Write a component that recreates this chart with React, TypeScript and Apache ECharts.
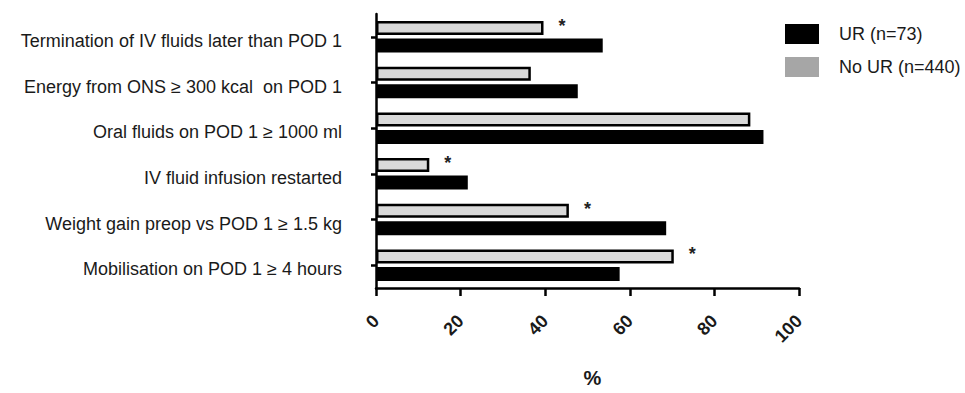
import React, { useEffect, useRef } from "react";
import * as echarts from "echarts";

const categories = [
  "Termination of IV fluids later than POD 1",
  "Energy from ONS \u2265 300 kcal  on POD 1",
  "Oral fluids on POD 1 \u2265 1000 ml",
  "IV fluid infusion restarted",
  "Weight gain preop vs POD 1 \u2265 1.5 kg",
  "Mobilisation on POD 1 \u2265 4 hours",
];
const urValues = [53.6, 47.7, 91.6, 21.7, 68.6, 57.6];
const noUrValues = [39.6, 36.6, 88.5, 12.6, 45.6, 70.4];
const significant = [true, false, false, true, true, true];
const xTicks = [0, 20, 40, 60, 80, 100];
const urName = "UR (n=73)";
const noUrName = "No UR (n=440)";

const FONT = "'Liberation Sans', Arial, sans-serif";

export default function App() {
  const ref = useRef<HTMLDivElement>(null);
  useEffect(() => {
    if (!ref.current) return;
    const chart = echarts.init(ref.current, undefined, { renderer: "svg" });
    chart.setOption({
      animation: false,
      backgroundColor: "#ffffff",
      grid: { left: 376, right: 166, top: 14, bottom: 96, containLabel: false },
      legend: {
        orient: "vertical",
        left: 780,
        top: 19,
        itemWidth: 34,
        itemHeight: 20,
        itemGap: 13,
        icon: "rect",
        selectedMode: false,
        textStyle: { fontFamily: FONT, fontSize: 18, color: "#1a1a1a", padding: [0, 0, 0, 15] },
        data: [
          { name: urName, itemStyle: { color: "#000", borderWidth: 0 } },
          { name: noUrName, itemStyle: { color: "#a6a6a6", borderWidth: 0 } },
        ],
      },
      xAxis: {
        type: "value",
        min: 0,
        max: 100,
        interval: 20,
        name: "%",
        nameLocation: "middle",
        nameGap: 80,
        nameTextStyle: { fontFamily: FONT, fontSize: 20, fontWeight: "bold", color: "#1a1a1a", padding: [0, 0, 0, 10] },
        axisLine: { show: true, lineStyle: { color: "#000", width: 2.5 } },
        axisTick: { show: true, length: 8, lineStyle: { color: "#000", width: 2.5 } },
        splitLine: { show: false },
        axisLabel: {
          rotate: 45,
          margin: 30,
          fontFamily: FONT,
          fontSize: 18,
          fontWeight: "bold",
          color: "#1a1a1a",
          formatter: (v: number) => (xTicks.includes(v) ? String(v) : ""),
        },
      },
      yAxis: {
        type: "category",
        inverse: true,
        data: categories,
        axisLine: { show: true, lineStyle: { color: "#000", width: 2.5 } },
        axisTick: { show: true, alignWithLabel: true, length: 5, lineStyle: { color: "#000", width: 2.5 } },
        axisLabel: {
          margin: 34,
          fontFamily: FONT,
          fontSize: 18,
          color: "#1a1a1a",
          verticalAlign: "top",
          lineHeight: 8,
        },
      },
      series: [
        {
          name: noUrName,
          type: "bar",
          barWidth: 14,
          barGap: "25%",
          itemStyle: { color: "#d9d9d9", borderColor: "#000", borderWidth: 2.5 },
          data: noUrValues.map((v, i) => ({
            value: v,
            label: significant[i]
              ? {
                  show: true,
                  position: "right",
                  formatter: "*",
                  offset: [10, -2],
                  fontFamily: FONT,
                  fontSize: 18,
                  fontWeight: "bold",
                  color: "#222",
                }
              : { show: false },
          })),
        },
        {
          name: urName,
          type: "bar",
          barWidth: 14,
          itemStyle: { color: "#000", borderColor: "#000", borderWidth: 2 },
          data: urValues,
        },
      ],
    });
    return () => chart.dispose();
  }, []);
  return (
    <div
      ref={ref}
      style={{ position: "absolute", left: 0, top: 0, width: 965, height: 393, background: "#fff" }}
    />
  );
}
